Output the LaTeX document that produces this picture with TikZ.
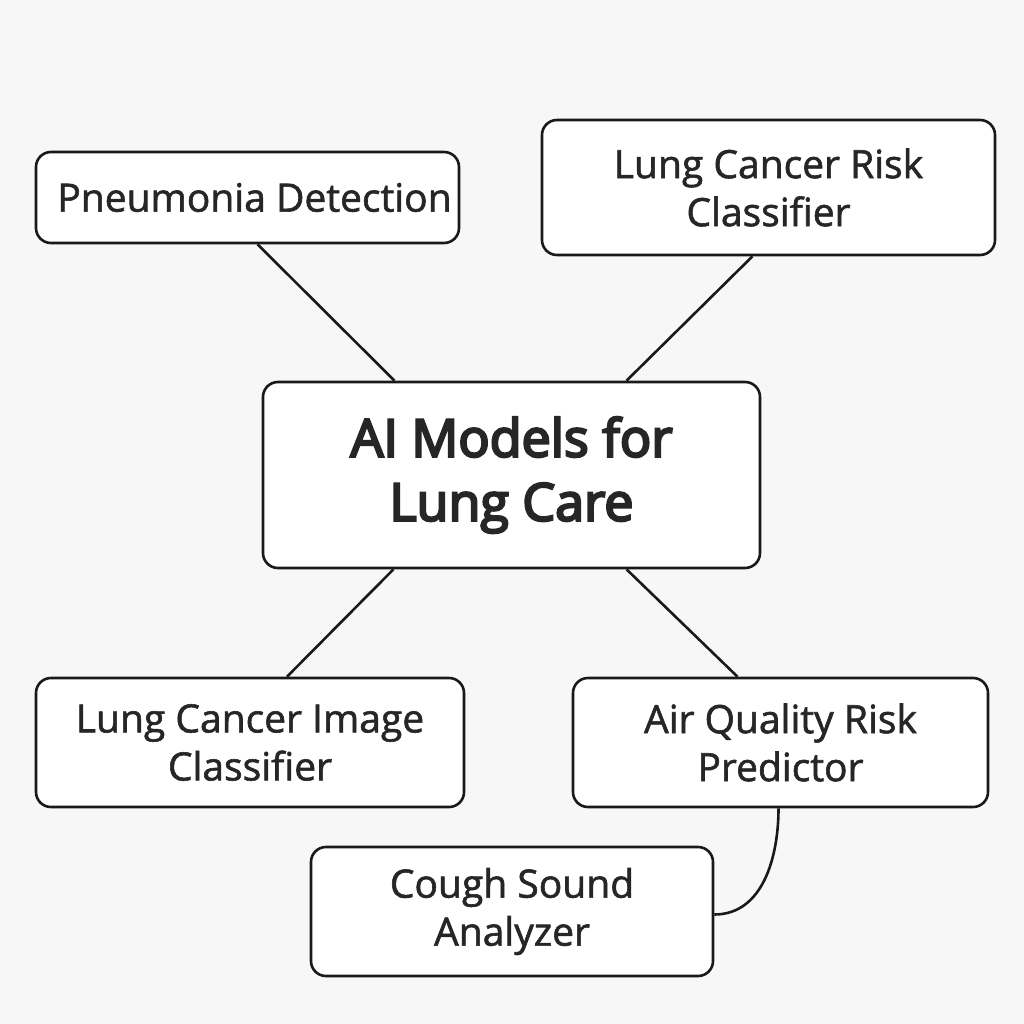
\documentclass[tikz,border=0pt]{standalone}
\usepackage{fontspec}
\setmainfont{Open Sans}
\newfontfamily\boxfont{Open Sans}[FakeBold=1.5]
\newfontfamily\hubfont{Open Sans}[FakeBold=4.5]
\begin{document}
\begin{tikzpicture}[
    x=1pt, y=-1pt,
    % boxes: rounded, white fill, thick black border
    model/.style={draw=black!90, fill=white, line width=2.6pt, rounded corners=15pt,
        align=center, inner sep=0pt, font=\boxfont\fontsize{39}{48}\selectfont, text=black!85},
    % central box with larger text
    hub/.style={model, font=\hubfont\fontsize{52}{64}\selectfont},
    % connectors
    link/.style={line width=2.6pt, black!90}
]
    % background
    \fill[black!3] (0,0) rectangle (1024,1024);
    \useasboundingbox (0,0) rectangle (1024,1024);

    % --- central node ---
    \node[hub, minimum width=497pt, minimum height=186pt] (ai) at (511.5,475) {AI Models for\\Lung Care};

    % --- upper nodes ---
    \node[model, minimum width=423pt, minimum height=91pt] (pn) at (247.5,197.5) {\hspace{14pt}Pneumonia Detection};
    \node[model, minimum width=453pt, minimum height=135pt] (lr) at (768.5,187.5) {Lung Cancer Risk\\Classifier};

    % --- lower nodes ---
    \node[model, minimum width=428pt, minimum height=129pt] (li) at (250,742.5) {Lung Cancer Image\\Classifier};
    \node[model, minimum width=415pt, minimum height=129pt] (aq) at (780.5,742.5) {Air Quality Risk\\Predictor};
    \node[model, minimum width=402pt, minimum height=129pt] (cs) at (512,911.5) {Cough Sound\\Analyzer};

    % --- connectors ---
    \draw[link] ([xshift=10pt]pn.south) -- ([xshift=-117pt]ai.north);
    \draw[link] ([xshift=-16pt]lr.south) -- ([xshift=115pt]ai.north);
    \draw[link] ([xshift=-118pt]ai.south) -- ([xshift=37pt]li.north);
    \draw[link] ([xshift=115pt]ai.south) -- ([xshift=-43pt]aq.north);
    \draw[link] ([xshift=-2pt]aq.south) to[out=-90, in=0] ([yshift=-3pt]cs.east);

\end{tikzpicture}
\end{document}
